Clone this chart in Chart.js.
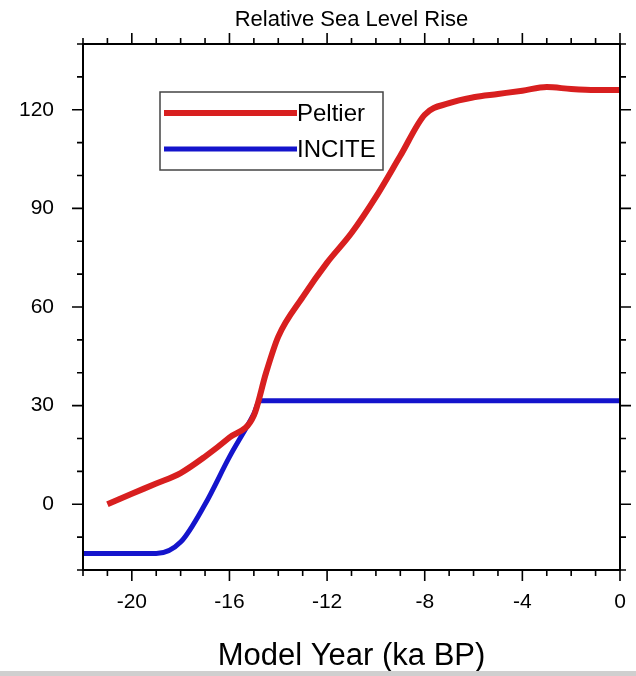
<!DOCTYPE html>
<html>
<head>
<meta charset="utf-8">
<title>Relative Sea Level Rise</title>
<script src="https://cdn.jsdelivr.net/npm/chart.js@4.4.1/dist/chart.umd.min.js"></script>
<style>
  html, body { margin: 0; padding: 0; background: #fff; }
  #wrap { position: relative; width: 636px; height: 676px; }
  #strip { position: absolute; left: 0; right: 0; bottom: 0; height: 5px; background: #cfcfcf; }
</style>
</head>
<body>
<div id="wrap">
  <canvas id="slrChart" width="636" height="676"></canvas>
  <div id="strip"></div>
</div>
<script>
// Relative sea level rise (m) vs model year (ka BP)
const peltierYears = [-21, -20, -19, -18, -17, -16, -15, -14.5, -14, -13, -12, -11, -10, -9, -8, -7, -6, -5, -4, -3, -2, -1, 0];
const peltierRise  = [0, 3.2, 6.3, 9.5, 14.5, 20.3, 27, 40, 51, 63, 73.5, 82.5, 93.5, 106, 118.5, 122, 123.8, 124.8, 125.8, 126.9, 126.3, 126, 126];

const inciteYears = [-22, -21, -20, -19, -18, -17, -16, -15, -14.75, -14, -12, -10, -8, -6, -4, -2, 0];
const inciteRise  = [-15, -15, -15, -15, -11.5, 0, 14.4, 27.5, 31.5, 31.5, 31.5, 31.5, 31.5, 31.5, 31.5, 31.5, 31.5];

const xRange = [-22, 0];
const yRange = [-20, 140];
const xMajorStep = 4, xMinorStep = 1;
const yMajorStep = 30, yMinorStep = 10;

const FONT = '"Liberation Sans", Arial, Helvetica, sans-serif';
const COLORS = { peltier: '#d81f1f', incite: '#1414cc', axis: '#000' };

// frame + outward tick marks on all four sides (NCL style)
const frameTicks = {
  id: 'frameTicks',
  afterDatasetsDraw(chart) {
    const { ctx, chartArea: a, scales: { x, y } } = chart;
    const MAJOR = 11, MINOR = 6;
    ctx.save();
    ctx.strokeStyle = COLORS.axis;
    ctx.lineWidth = 1.6;
    ctx.beginPath();
    for (let v = xRange[0]; v <= xRange[1]; v += xMinorStep) {
      const px = x.getPixelForValue(v);
      const len = v % xMajorStep === 0 ? MAJOR : MINOR;
      ctx.moveTo(px, a.bottom); ctx.lineTo(px, a.bottom + len);
      ctx.moveTo(px, a.top); ctx.lineTo(px, a.top - len);
    }
    for (let v = yRange[0]; v <= yRange[1]; v += yMinorStep) {
      const py = y.getPixelForValue(v);
      const len = v % yMajorStep === 0 ? MAJOR : MINOR;
      ctx.moveTo(a.left, py); ctx.lineTo(a.left - len, py);
      ctx.moveTo(a.right, py); ctx.lineTo(a.right + len, py);
    }
    ctx.stroke();
    ctx.lineWidth = 2;
    ctx.strokeRect(a.left, a.top, a.right - a.left, a.bottom - a.top);
    ctx.restore();
  }
};

// boxed legend inside the plot, upper left
const boxLegend = {
  id: 'boxLegend',
  afterDraw(chart) {
    const ctx = chart.ctx;
    const box = { left: 160, top: 92, width: 223, height: 78 };
    ctx.save();
    ctx.fillStyle = '#fff';
    ctx.fillRect(box.left, box.top, box.width, box.height);
    ctx.strokeStyle = '#444';
    ctx.lineWidth = 1.5;
    ctx.strokeRect(box.left, box.top, box.width, box.height);
    chart.data.datasets.forEach((ds, i) => {
      const yy = 113 + i * 36;
      ctx.strokeStyle = ds.borderColor;
      ctx.lineWidth = ds.borderWidth;
      ctx.beginPath();
      ctx.moveTo(164, yy);
      ctx.lineTo(297, yy);
      ctx.stroke();
      ctx.fillStyle = '#000';
      ctx.font = '24px ' + FONT;
      ctx.textBaseline = 'middle';
      ctx.fillText(ds.label, 297, yy + 1);
    });
    ctx.restore();
  }
};

// keep Chart.js from reserving extra room for the end tick labels
function noSidePadding(s) {
  s.paddingLeft = 0;
  s.paddingRight = 0;
}

new Chart(document.getElementById('slrChart'), {
  type: 'line',
  data: {
    datasets: [
      {
        label: 'Peltier',
        data: peltierYears.map((yr, i) => ({ x: yr, y: peltierRise[i] })),
        borderColor: COLORS.peltier,
        borderWidth: 6,
        pointRadius: 0,
        cubicInterpolationMode: 'monotone',
        fill: false
      },
      {
        label: 'INCITE',
        data: inciteYears.map((yr, i) => ({ x: yr, y: inciteRise[i] })),
        borderColor: COLORS.incite,
        borderWidth: 5,
        pointRadius: 0,
        cubicInterpolationMode: 'monotone',
        fill: false
      }
    ]
  },
  options: {
    responsive: false,
    animation: false,
    layout: { padding: { left: 0, right: 16, top: 0, bottom: 0 } },
    plugins: {
      legend: { display: false },
      tooltip: { enabled: false }
    },
    scales: {
      x: {
        type: 'linear',
        min: xRange[0],
        max: xRange[1],
        grid: { display: false, drawTicks: false },
        border: { display: false },
        ticks: {
          stepSize: xMinorStep,
          autoSkip: false,
          maxRotation: 0,
          padding: 20,
          color: '#000',
          font: { family: FONT, size: 21 },
          callback: v => (v % xMajorStep === 0 ? v : '')
        },
        title: {
          display: true,
          text: 'Model Year (ka BP)',
          color: '#000',
          font: { family: FONT, size: 31 },
          padding: { top: 0, bottom: 1 }
        },
        afterFit(s) { s.height = 106; noSidePadding(s); }
      },
      xTop: {
        type: 'linear',
        position: 'top',
        min: xRange[0],
        max: xRange[1],
        grid: { display: false, drawTicks: false },
        border: { display: false },
        ticks: { display: false },
        title: {
          display: true,
          text: 'Relative Sea Level Rise',
          color: '#000',
          font: { family: FONT, size: 22 },
          padding: { top: 7, bottom: 0 }
        },
        afterFit(s) { s.height = 44; noSidePadding(s); }
      },
      y: {
        type: 'linear',
        min: yRange[0],
        max: yRange[1],
        grid: { display: false, drawTicks: false },
        border: { display: false },
        ticks: {
          stepSize: yMinorStep,
          autoSkip: false,
          padding: 29,
          color: '#000',
          font: { family: FONT, size: 21 },
          callback: v => (v % yMajorStep === 0 ? v : '')
        },
        afterFit(s) { s.width = 83; }
      }
    }
  },
  plugins: [frameTicks, boxLegend]
});
</script>
</body>
</html>
